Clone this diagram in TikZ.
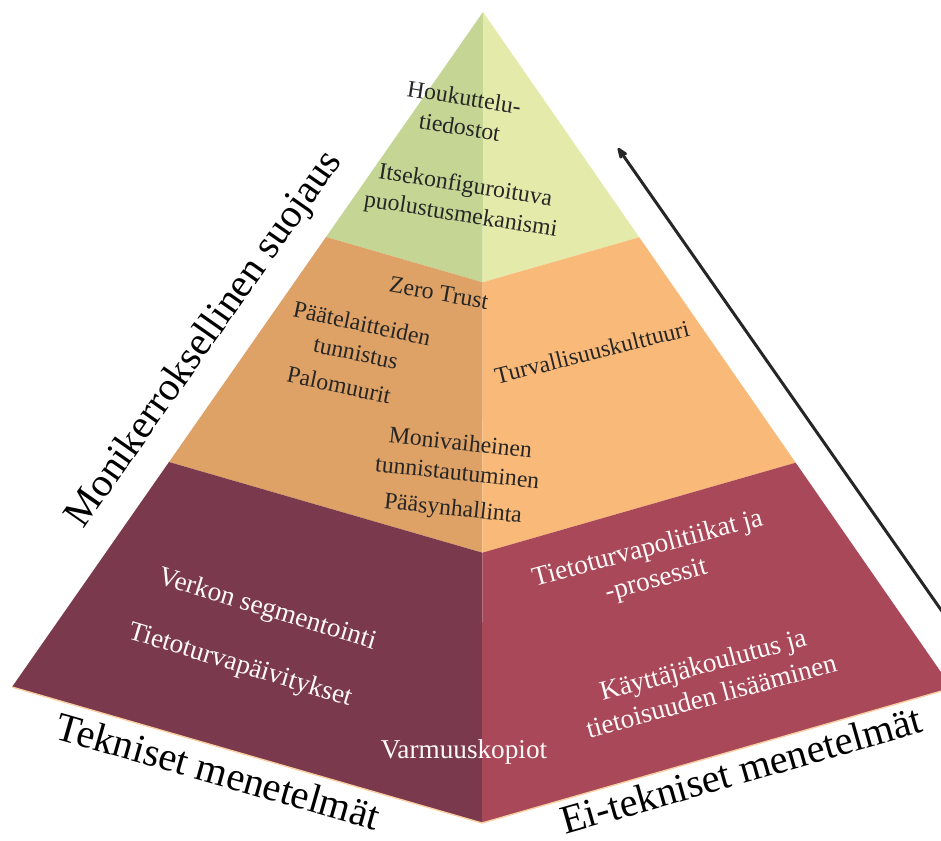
\documentclass[tikz,border=0pt]{standalone}
\usepackage{fontspec}
\setmainfont{Liberation Serif}
\usetikzlibrary{arrows.meta,calc}

\definecolor{grnL}{RGB}{196,213,148}
\definecolor{grnR}{RGB}{227,234,170}
\definecolor{orgL}{RGB}{222,161,102}
\definecolor{orgR}{RGB}{249,185,120}
\definecolor{redL}{RGB}{122,57,76}
\definecolor{redR}{RGB}{168,72,89}
\definecolor{rimcol}{RGB}{250,205,160}

\begin{document}
\begin{tikzpicture}[x=0.02cm, y=-0.02cm, >={Stealth[round, length=3.2mm, width=2.4mm]},
  inner/.style={text=black!85, align=center, font=\fontsize{13.5}{17}\selectfont},
  innerw/.style={text=white!92!pink, align=center, font=\fontsize{15.5}{18.5}\selectfont},
  side/.style={text=black, font=\fontsize{23}{26}\selectfont}]
\useasboundingbox (0,0) rectangle (941,840);
\clip (0,0) rectangle (941,840);
% corners of the pyramid
\coordinate (apex) at (483,12);
\coordinate (lc) at (12,687);
\coordinate (bc) at (482,823);
\coordinate (rc) at (952,688);
% layers, left and right face
\foreach \a/\b/\cl/\cr in {0/0.3333/grnL/grnR, 0.3333/0.6667/orgL/orgR, 0.6667/1/redL/redR}{
  \fill[\cl] ($(apex)!\a!(lc)$) -- ($(apex)!\b!(lc)$) -- ($(apex)!\b!(bc)$) -- ($(apex)!\a!(bc)$) -- cycle;
  \fill[\cr] ($(apex)!\a!(bc)$) -- ($(apex)!\b!(bc)$) -- ($(apex)!\b!(rc)$) -- ($(apex)!\a!(rc)$) -- cycle;
}
\draw[rimcol, line width=0.8pt] (lc) -- (bc) -- (rc);
% top layer
\node[inner, rotate=-9] (decoy) at (462,112) {Houkuttelu-\\tiedostot};
\node[inner, rotate=-9] (selfconf) at (463,201) {Itsekonfiguroituva\\puolustusmekanismi};
% middle layer
\node[inner, rotate=-10] (zerotrust) at (439,293) {Zero Trust};
\node[inner, rotate=-12] (endpoint) at (359,338) {Päätelaitteiden\\tunnistus};
\node[inner, rotate=-12] (firewall) at (339,385) {Palomuurit};
\node[inner, rotate=-6] (mfa) at (459,457) {Monivaiheinen\\tunnistautuminen};
\node[inner, rotate=-6] (access) at (453,510) {Pääsynhallinta};
\node[inner, rotate=14] (culture) at (592,352) {Turvallisuuskulttuuri};
% bottom layer
\node[innerw, rotate=-17] (segment) at (267,610) {Verkon segmentointi};
\node[innerw, rotate=-17] (patches) at (240,666) {Tietoturvapäivitykset};
\node[innerw] (backup) at (464,752) {Varmuuskopiot};
\node[innerw, rotate=15] (policy) at (652,565) {Tietoturvapolitiikat ja\\-prosessit};
\node[innerw, rotate=15] (training) at (707,680) {Käyttäjäkoulutus ja\\tietoisuuden lisääminen};
% labels round the pyramid
\node[side, rotate=55] (layered) at (205,340) {Monikerroksellinen suojaus};
\node[side, rotate=-16] (tech) at (218,771) {Tekniset menetelmät};
\node[side, rotate=16] (nontech) at (741,770) {Ei-tekniset menetelmät};
% arrow along the right side
\coordinate (arrowtail) at (946,617);
\coordinate (arrowtip) at (618,148);
\draw[->, line width=1.7pt, black!85] (arrowtail) -- (arrowtip);
\end{tikzpicture}
\end{document}
